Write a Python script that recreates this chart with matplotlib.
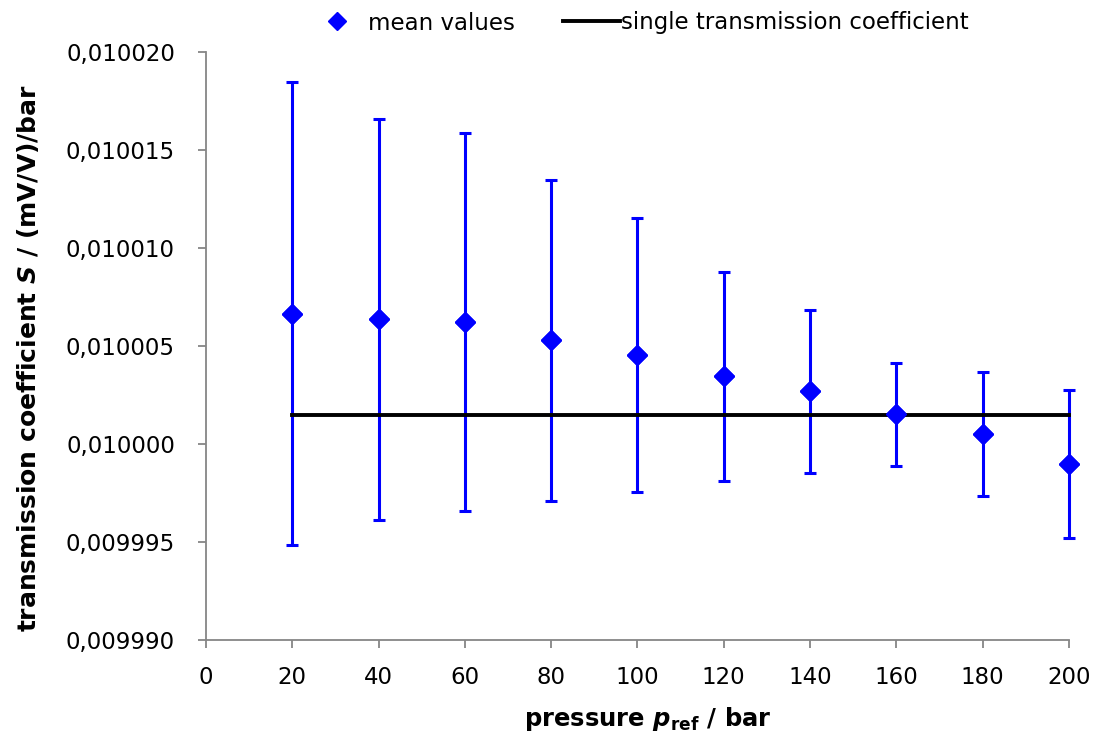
import numpy as np
import matplotlib
matplotlib.use('Agg')
from matplotlib import pyplot as plt
from matplotlib import ticker
import matplotlib.lines as mlines

from matplotlib import rcParams
rcParams['font.family'] = 'DejaVu Sans'
rcParams['mathtext.fontset'] = 'dejavusans'
rcParams['xtick.direction'] = 'out'
rcParams['ytick.direction'] = 'out'

# data
pressure = [20, 40, 60, 80, 100, 120, 140, 160, 180, 200]
mean_values = [0.01000667, 0.01000638, 0.01000622, 0.01000531, 0.01000455,
               0.01000347, 0.01000270, 0.01000153, 0.01000051, 0.00999898]
errors = [11.83e-6, 10.24e-6, 9.64e-6, 8.18e-6, 6.97e-6,
          5.32e-6, 4.14e-6, 2.63e-6, 3.16e-6, 3.78e-6]
single_coeff = 0.01000151

xticks = list(range(0, 201, 20))
yticks = [0.009990, 0.009995, 0.010000, 0.010005, 0.010010, 0.010015, 0.010020]

fig = plt.figure(figsize=(11.02, 7.36), dpi=100)
ax = fig.add_axes([0.1869, 0.130, 0.7831, 0.799])

blue = '#0000FF'
eb = ax.errorbar(pressure, mean_values, yerr=errors, fmt='D', color=blue,
                 markersize=10, elinewidth=2.2, capsize=4.3, capthick=2.2, zorder=3)
for art in eb.get_children():
    art.set_clip_on(False)
ax.plot([pressure[0], pressure[-1]], [single_coeff, single_coeff],
        color='black', linewidth=2.8, zorder=4, clip_on=False)
# markers on top of the black line
ax.plot(pressure, mean_values, 'D', color=blue, markersize=10, zorder=5, clip_on=False)

ax.set_xlim(0, 200)
ax.set_ylim(yticks[0], yticks[-1])
ax.xaxis.set_major_locator(ticker.FixedLocator(xticks))
ax.yaxis.set_major_locator(ticker.FixedLocator(yticks))
ax.yaxis.set_major_formatter(
    ticker.FuncFormatter(lambda v, p: ('%.6f' % v).replace('.', ',')))

for s in ['top', 'right']:
    ax.spines[s].set_visible(False)
for s in ['left', 'bottom']:
    ax.spines[s].set_color('#868686')
    ax.spines[s].set_linewidth(1.3)
ax.tick_params(colors='#868686', labelcolor='black', length=5.8, width=1.3,
               labelsize=16.5)
ax.tick_params(axis='x', pad=13)
ax.tick_params(axis='y', pad=16.5)

fig.text(648 / 1102, 1 - 719 / 736, r'pressure $\mathbfit{p}_{\mathbf{ref}}$ / bar',
         fontsize=17.5, fontweight='bold', ha='center', va='center')
fig.text(28 / 1102, 1 - 358 / 736, r'transmission coefficient $\mathbfit{S}$ / (mV/V)/bar',
         fontsize=18, fontweight='bold', ha='center', va='center', rotation=90)

# legend: two pieces so the spacing of each entry can follow the original
h_mean = mlines.Line2D([], [], color=blue, marker='D', linestyle='',
                       markersize=9, label='mean values')
h_single = mlines.Line2D([], [], color='black', linewidth=2.8,
                         label='single transmission coefficient')
fig.legend(handles=[h_mean], loc='center left', bbox_to_anchor=(315 / 1102, 1 - 23 / 736),
           frameon=False, fontsize=16.5, handlelength=1.9, handletextpad=0.4,
           borderpad=0, borderaxespad=0)
fig.legend(handles=[h_single], loc='center left', bbox_to_anchor=(563 / 1102, 1 - 23 / 736),
           frameon=False, fontsize=16.5, handlelength=2.5, handletextpad=0.05,
           borderpad=0, borderaxespad=0)

plt.savefig('out.png', dpi=100)
plt.close()
